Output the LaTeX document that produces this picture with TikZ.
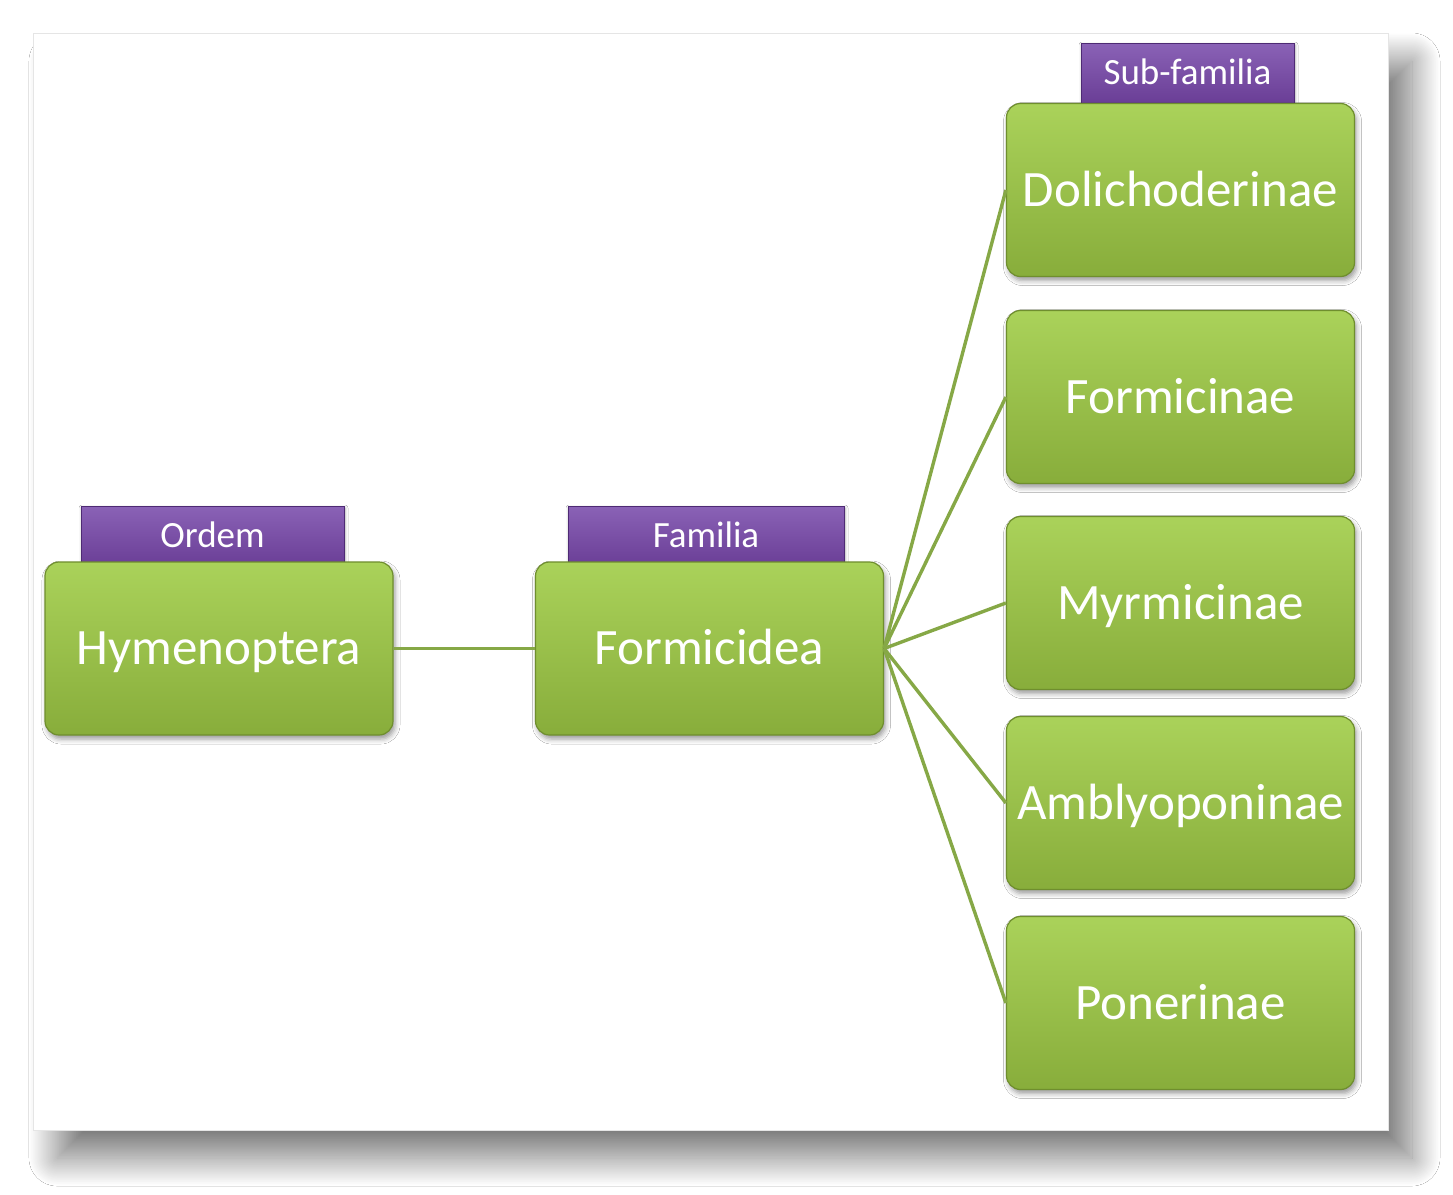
\documentclass[tikz,border=0pt]{standalone}
\usepackage{fontspec}
\setmainfont{Carlito}
\usetikzlibrary{shadows.blur}
\definecolor{gtop}{HTML}{AAD25A}
\definecolor{gbot}{HTML}{88AD3B}
\definecolor{gborder}{HTML}{6F8E2E}
\definecolor{gline}{HTML}{86A846}
\definecolor{ptop}{HTML}{8A62B6}
\definecolor{pbot}{HTML}{6A3E96}
\definecolor{pborder}{HTML}{4E2A74}
\begin{document}
\begin{tikzpicture}[x=0.5pt,y=-0.5pt,
  gbox/.style={rounded corners=7pt, draw=gborder, line width=0.6pt,
    top color=gtop, bottom color=gbot, minimum width=174pt, minimum height=86.5pt,
    text=white, font=\fontsize{25.5}{30}\selectfont, inner sep=0pt,
    text height=16.4pt, text depth=0pt,
    blur shadow={shadow xshift=1pt, shadow yshift=-2pt, shadow blur radius=2.5pt, shadow opacity=40}},
  plabel/.style={draw=pborder, line width=0.5pt, top color=ptop, bottom color=pbot,
    minimum height=30pt, text=white, font=\fontsize{18.5}{22}\selectfont, inner sep=0pt,
    text height=11.9pt, text depth=0pt,
    blur shadow={shadow xshift=0.5pt, shadow yshift=-1pt, shadow blur radius=1.5pt, shadow opacity=35}},
  conn/.style={draw=gline, line width=1.7pt}]
\useasboundingbox (0,0) rectangle (1453,1195);
\fill[white] (0,0) rectangle (1453,1195);
% panel
\path[fill=white, draw=black!10, line width=0.4pt,
  blur shadow={shadow xshift=12pt, shadow yshift=-14pt, shadow blur radius=14pt,
    shadow blur steps=40, shadow opacity=52}]
  (33,33) rectangle (1388,1130);
% labels
\node[plabel, minimum width=131.5pt] (lo) at (212.5,536) {Ordem};
\node[plabel, minimum width=138pt] (lf) at (706,536) {Familia};
\node[plabel, minimum width=106.5pt] (ls) at (1187.5,73) {Sub-familia};
% boxes
\node[gbox] (h) at (219,648.5) {Hymenoptera};
\node[gbox] (f) at (709.5,648.5) {Formicidea};
\node[gbox] (s1) at (1180.5,190) {Dolichoderinae};
\node[gbox] (s2) at (1180.5,397) {Formicinae};
\node[gbox] (s3) at (1180.5,603) {Myrmicinae};
\node[gbox] (s4) at (1180.5,803) {Amblyoponinae};
\node[gbox] (s5) at (1180.5,1003) {Ponerinae};
% connectors
\draw[conn] (h.east) -- (f.west);
\foreach \s in {s1,s2,s3,s4,s5}{
  \draw[conn] (f.east) -- (\s.west);
}
\end{tikzpicture}
\end{document}
